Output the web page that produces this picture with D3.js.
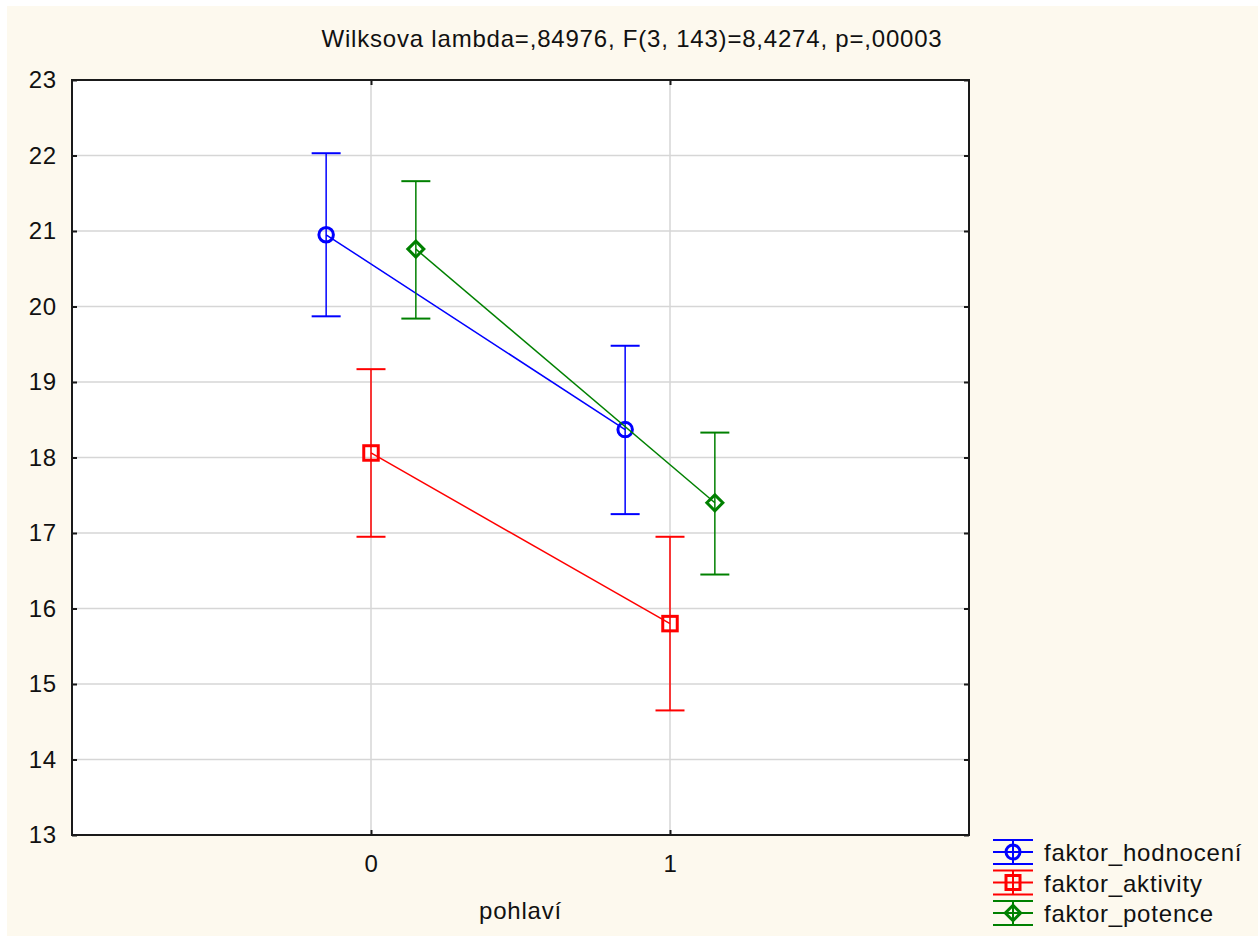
<!DOCTYPE html>
<html>
<head>
<meta charset="utf-8">
<script src="https://cdn.jsdelivr.net/npm/d3@7"></script>
<style>
  body { margin: 0; background: #ffffff; }
  text { font-family: Arial, "Liberation Sans", sans-serif; fill: #111; letter-spacing: 0.8px; }
</style>
</head>
<body>
<div id="chart"></div>
<script>
// data
let groups = [0, 1];
let yTicks = [13, 14, 15, 16, 17, 18, 19, 20, 21, 22, 23];
let seriesNames = ["faktor_hodnocení", "faktor_aktivity", "faktor_potence"];
let hodnoceniMean = [20.95, 18.37];
let hodnoceniLow  = [19.87, 17.25];
let hodnoceniHigh = [22.03, 19.48];
let aktivityMean = [18.06, 15.80];
let aktivityLow  = [16.95, 14.65];
let aktivityHigh = [19.17, 16.95];
let potenceMean = [20.76, 17.40];
let potenceLow  = [19.84, 16.45];
let potenceHigh = [21.66, 18.33];
let titleText = "Wilksova lambda=,84976, F(3, 143)=8,4274, p=,00003";
let xLabel = "pohlaví";

let series = [
    {name: seriesNames[0], mean: hodnoceniMean, low: hodnoceniLow, high: hodnoceniHigh, color: "#0000ff", shape: "circle", offset: -0.15},
    {name: seriesNames[1], mean: aktivityMean, low: aktivityLow, high: aktivityHigh, color: "#ff0000", shape: "square", offset: 0},
    {name: seriesNames[2], mean: potenceMean, low: potenceLow, high: potenceHigh, color: "#008000", shape: "diamond", offset: 0.15}
];

let W = 1258, H = 936;
let plot = {left: 72, top: 80, right: 969, bottom: 835};
let fontSize = "24px";

let svg = d3.select("#chart").append("svg")
    .attr("width", W)
    .attr("height", H);

// cream background
svg.append("rect")
    .attr("x", 7).attr("y", 6)
    .attr("width", W - 7).attr("height", H - 6)
    .attr("fill", "#fdf9ee");

svg.append("rect")
    .attr("x", plot.left).attr("y", plot.top)
    .attr("width", plot.right - plot.left).attr("height", plot.bottom - plot.top)
    .attr("fill", "#ffffff");

let x = d3.scaleLinear().domain([-1, 2]).range([plot.left, plot.right]);
let y = d3.scaleLinear().domain([13, 23]).range([plot.bottom, plot.top]);

// grid
let grid = svg.append("g");
grid.selectAll(".hgrid")
    .data(yTicks.slice(1, -1))
    .enter().append("line")
    .attr("x1", plot.left).attr("x2", plot.right)
    .attr("y1", d => y(d)).attr("y2", d => y(d))
    .attr("stroke", "#d6d6d6").attr("stroke-width", 1.5);
grid.selectAll(".vgrid")
    .data(groups)
    .enter().append("line")
    .attr("x1", d => x(d)).attr("x2", d => x(d))
    .attr("y1", plot.top).attr("y2", plot.bottom)
    .attr("stroke", "#d6d6d6").attr("stroke-width", 1.5);

// axes (ticks pointing inside)
let axisLeft = d3.axisLeft(y).tickValues(yTicks).tickSize(-5).tickPadding(15).tickFormat(d3.format("d"));
let axisRight = d3.axisRight(y).tickValues(yTicks).tickSize(-5).tickFormat("");
let axisBottom = d3.axisBottom(x).tickValues(groups).tickSize(-5).tickPadding(20).tickFormat(d3.format("d"));
let axisTop = d3.axisTop(x).tickValues(groups).tickSize(-5).tickFormat("");

let styleAxis = function(g){
    g.select(".domain").remove();
    g.selectAll(".tick line").attr("stroke", "#1a1a1a").attr("stroke-width", 2);
    g.selectAll(".tick text").style("font-size", fontSize).attr("fill", "#111");
};

svg.append("g").attr("transform", "translate(" + plot.left + ",0)").call(axisLeft).call(styleAxis);
svg.append("g").attr("transform", "translate(" + plot.right + ",0)").call(axisRight).call(styleAxis);
svg.append("g").attr("transform", "translate(0," + plot.bottom + ")").call(axisBottom).call(styleAxis);
svg.append("g").attr("transform", "translate(0," + plot.top + ")").call(axisTop).call(styleAxis);

svg.append("rect")
    .attr("x", plot.left).attr("y", plot.top)
    .attr("width", plot.right - plot.left).attr("height", plot.bottom - plot.top)
    .attr("fill", "none").attr("stroke", "#1a1a1a").attr("stroke-width", 2);

// marker drawing
let drawMarker = function(g, shape, color, cx, cy, size){
    if(shape == "circle"){
        g.append("circle").attr("cx", cx).attr("cy", cy).attr("r", size * 0.5)
            .attr("fill", "none").attr("stroke", color).attr("stroke-width", 3);
    }else if(shape == "square"){
        g.append("rect").attr("x", cx - size / 2).attr("y", cy - size / 2)
            .attr("width", size).attr("height", size)
            .attr("fill", "none").attr("stroke", color).attr("stroke-width", 3);
    }else{
        let r = size * 0.55;
        g.append("path")
            .attr("d", "M" + cx + "," + (cy - r) + "L" + (cx + r) + "," + cy + "L" + cx + "," + (cy + r) + "L" + (cx - r) + "," + cy + "Z")
            .attr("fill", "none").attr("stroke", color).attr("stroke-width", 3);
    }
};

// series
let capHalf = 14.5;
series.forEach(function(s){
    let g = svg.append("g");
    let pts = groups.map((gr, i) => ({x: x(gr + s.offset), m: y(s.mean[i]), lo: y(s.low[i]), hi: y(s.high[i])}));

    g.append("path")
        .attr("d", d3.line().x(d => d.x).y(d => d.m)(pts))
        .attr("fill", "none").attr("stroke", s.color).attr("stroke-width", 1.5);

    pts.forEach(function(p){
        g.append("line").attr("x1", p.x).attr("x2", p.x).attr("y1", p.lo).attr("y2", p.hi)
            .attr("stroke", s.color).attr("stroke-width", 1.5);
        [p.lo, p.hi].forEach(function(cy){
            g.append("line").attr("x1", p.x - capHalf).attr("x2", p.x + capHalf).attr("y1", cy).attr("y2", cy)
                .attr("stroke", s.color).attr("stroke-width", 2);
        });
        drawMarker(g, s.shape, s.color, p.x, p.m, 14.5);
    });
});

// title & axis label
svg.append("text")
    .attr("x", 632).attr("y", 47)
    .attr("text-anchor", "middle")
    .style("font-size", fontSize)
    .text(titleText);

svg.append("text")
    .attr("x", (plot.left + plot.right) / 2).attr("y", 919)
    .attr("text-anchor", "middle")
    .style("font-size", fontSize)
    .text(xLabel);

// legend
let legend = svg.append("g");
series.forEach(function(s, i){
    let cy = 852 + i * 30.5;
    let g = legend.append("g");
    [cy - 12, cy, cy + 12].forEach(function(ly){
        g.append("line").attr("x1", 993).attr("x2", 1033).attr("y1", ly).attr("y2", ly)
            .attr("stroke", s.color).attr("stroke-width", 2);
    });
    g.append("line").attr("x1", 1013).attr("x2", 1013).attr("y1", cy - 12).attr("y2", cy + 12)
        .attr("stroke", s.color).attr("stroke-width", 2);
    drawMarker(g, s.shape, s.color, 1013, cy, 14);
    g.append("text")
        .attr("x", 1044).attr("y", cy + 9)
        .style("font-size", fontSize)
        .text(s.name);
});
</script>
</body>
</html>
